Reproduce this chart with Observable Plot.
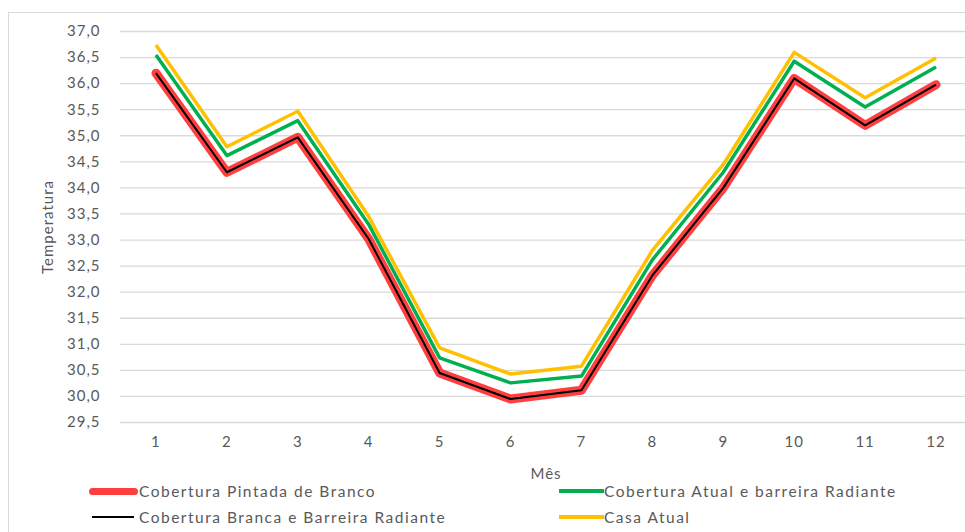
<!DOCTYPE html>
<html>
<head>
<meta charset="utf-8">
<script src="https://cdn.jsdelivr.net/npm/d3@7"></script>
<script src="https://cdn.jsdelivr.net/npm/@observablehq/plot@0.6"></script>
<style>
  html, body { margin: 0; padding: 0; background: #fff; overflow: hidden; width: 965px; height: 532px; }
  #wrap { position: relative; width: 965px; height: 532px; overflow: hidden; font-family: Lato, sans-serif; }
  #border { position: absolute; left: 8px; top: 12px; width: 1000px; height: 600px; border: 1.5px solid #d9d9d9; box-sizing: border-box; }
  #chart { position: absolute; left: 0; top: 0; width: 980px; }
  #chart svg { max-width: none !important; }
  .leg { position: absolute; font-size: 15.5px; letter-spacing: 1.5px; color: #595959; white-space: nowrap; line-height: 18px; }
  .sw { position: absolute; }
</style>
</head>
<body>
<div id="wrap">
  <div id="border"></div>
  <div id="chart"></div>
  <div id="legend"></div>
</div>
<script>
const months = [1, 2, 3, 4, 5, 6, 7, 8, 9, 10, 11, 12];
const seriesNames = [
  "Cobertura Pintada de Branco",
  "Cobertura Atual e barreira Radiante",
  "Cobertura Branca e Barreira Radiante",
  "Casa Atual"
];
const pintadaBranco = [36.20, 34.30, 34.97, 33.02, 30.45, 29.95, 30.12, 32.32, 34.00, 36.10, 35.20, 35.98];
const atualBarreira = [36.55, 34.62, 35.29, 33.30, 30.74, 30.26, 30.39, 32.62, 34.30, 36.43, 35.55, 36.32];
const brancaBarreira = [36.20, 34.30, 34.97, 33.02, 30.45, 29.95, 30.12, 32.32, 34.00, 36.10, 35.20, 35.98];
const casaAtual = [36.74, 34.79, 35.47, 33.45, 30.93, 30.43, 30.58, 32.80, 34.45, 36.60, 35.73, 36.49];
const yTicks = [29.5, 30, 30.5, 31, 31.5, 32, 32.5, 33, 33.5, 34, 34.5, 35, 35.5, 36, 36.5, 37];

const colors = ["#ff3f3f", "#00b050", "#000000", "#ffc000"];
const widths = [9, 3.5, 2, 3.5];
const allSeries = [pintadaBranco, atualBarreira, brancaBarreira, casaAtual];

const rows = [];
allSeries.forEach((vals, i) => months.forEach((m, j) => rows.push({ series: seriesNames[i], month: m, temp: vals[j] })));

const fmt = d => d.toFixed(1).replace(".", ",");

const plot = Plot.plot({
  width: 980,
  height: 480,
  marginLeft: 120,
  marginRight: 9,
  marginTop: 31,
  marginBottom: 58,
  style: { fontFamily: "Lato, sans-serif", fontSize: "15px", letterSpacing: "1px", color: "#595959", background: "transparent", maxWidth: "none" },
  x: { domain: [0.5, 12.5], ticks: months, tickFormat: d => String(d), tickSize: 0, tickPadding: 14, label: "Mês", labelArrow: "none", labelAnchor: "center", labelOffset: 56 },
  y: { domain: [29.5, 37], ticks: yTicks, tickFormat: fmt, tickSize: 0, tickPadding: 20, label: "Temperatura", labelArrow: "none", labelAnchor: "center", labelOffset: 78 },
  marks: [
    Plot.ruleY(yTicks, { stroke: "#d9d9d9", strokeWidth: 1.3 }),
    ...seriesNames.map((name, i) =>
      Plot.line(rows.filter(r => r.series === name), {
        x: "month", y: "temp", stroke: colors[i], strokeWidth: widths[i],
        strokeLinejoin: "round", strokeLinecap: i === 0 ? "round" : "butt"
      })
    )
  ]
});
document.getElementById("chart").appendChild(plot);

// Legend
const legend = document.getElementById("legend");
const pos = [
  { sx: 89, sw: 49, tx: 139, y: 491 },
  { sx: 559, sw: 45, tx: 604, y: 491 },
  { sx: 92, sw: 42, tx: 139, y: 517 },
  { sx: 559, sw: 45, tx: 604, y: 517 }
];
seriesNames.forEach((name, i) => {
  const p = pos[i];
  const h = i === 0 ? 7 : (i === 2 ? 2 : 4);
  const sw = document.createElement("div");
  sw.className = "sw";
  sw.style.left = p.sx + "px";
  sw.style.width = p.sw + "px";
  sw.style.top = (p.y - h / 2) + "px";
  sw.style.height = h + "px";
  sw.style.background = colors[i];
  sw.style.borderRadius = i === 0 ? "4px" : "0";
  legend.appendChild(sw);
  const t = document.createElement("div");
  t.className = "leg";
  t.style.left = p.tx + "px";
  t.style.top = (p.y - 9) + "px";
  t.textContent = name;
  legend.appendChild(t);
});
</script>
</body>
</html>
